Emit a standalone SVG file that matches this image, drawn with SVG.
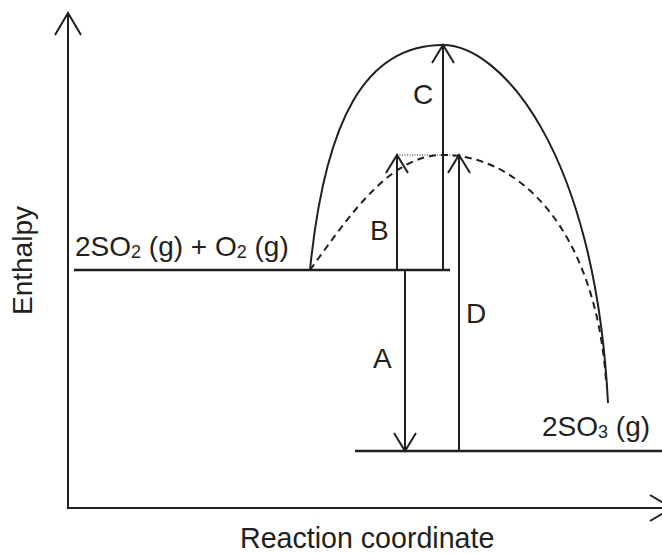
<svg xmlns="http://www.w3.org/2000/svg" width="662" height="554" viewBox="0 0 662 554">
<style>
.t{font-family:"Liberation Sans",Arial,sans-serif;font-size:28px;fill:#231f20}
.s{font-size:18px}
.ln{stroke:#231f20;stroke-width:2;fill:none}
.lv{stroke:#231f20;stroke-width:2.5;fill:none}
.ah{stroke:#231f20;stroke-width:2;fill:none;stroke-linejoin:miter}
</style>
<rect width="662" height="554" fill="#ffffff"/>
<g id="axes">
<path class="ln" d="M68,13 V508 H672"/>
<path class="ah" d="M55,35 L68,13 L81,35"/>
<path class="ah" d="M650,495 L672,508 L650,521"/>
</g>
<g id="reactants">
<line class="lv" x1="74" y1="270" x2="450" y2="270"/>
<text class="t" x="75" y="256">2SO<tspan class="s" dy="2">2</tspan><tspan dy="-2"> (g) + O</tspan><tspan class="s" dy="2">2</tspan><tspan dy="-2"> (g)</tspan></text>
</g>
<g id="products">
<line class="lv" x1="355" y1="451" x2="662" y2="451"/>
<text class="t" x="542" y="436">2SO<tspan class="s" dy="2">3</tspan><tspan dy="-2"> (g)</tspan></text>
</g>
<g id="curves">
<path class="ln" d="M310,270 C325,120 365,45 443,45 C500,45 595,150 608,403"/>
<path class="ln" stroke-dasharray="7,5" d="M310,270 C350,215 390,155 443,155 C520,155 595,230 606,380"/>
<line x1="397" y1="155" x2="460" y2="155" stroke="#231f20" stroke-width="1" stroke-dasharray="1,1.5"/>
</g>
<g id="connectors">
<g id="arrowB">
<line class="ln" x1="397" y1="270" x2="397" y2="156"/>
<path class="ah" d="M386,173 L397,155 L408,173"/>
</g>
<g id="arrowC">
<line class="ln" x1="443" y1="270" x2="443" y2="46"/>
<path class="ah" d="M432,63 L443,45 L454,63"/>
</g>
<g id="arrowD">
<line class="ln" x1="459" y1="451" x2="459" y2="156"/>
<path class="ah" d="M448,173 L459,155 L470,173"/>
</g>
<g id="arrowA">
<line class="ln" x1="405" y1="270" x2="405" y2="450"/>
<path class="ah" d="M394,433 L405,451 L416,433"/>
</g>
</g>
<g id="labels">
<text class="t" x="413" y="104">C</text>
<text class="t" x="370" y="240">B</text>
<text class="t" x="466" y="323">D</text>
<text class="t" x="373" y="368">A</text>
<text class="t" transform="translate(32,315) rotate(-90)">Enthalpy</text>
<text class="t" x="240" y="548" style="font-size:28.6px">Reaction coordinate</text>
</g>
</svg>
